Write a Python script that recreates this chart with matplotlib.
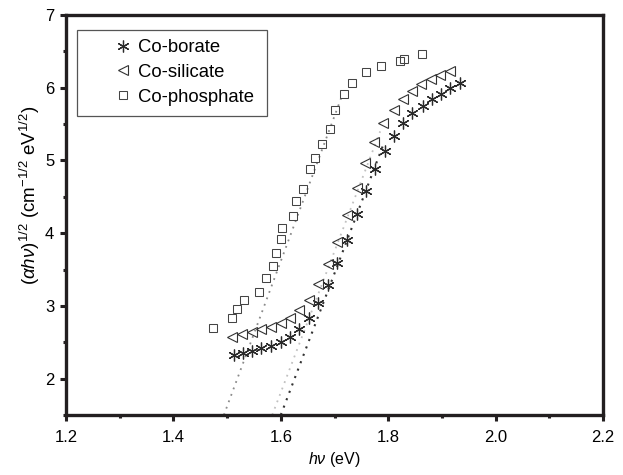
import matplotlib
matplotlib.use("Agg")
import matplotlib.pyplot as plt
from matplotlib.patches import Rectangle
from matplotlib.ticker import MultipleLocator
import numpy as np

plt.rcParams['font.family'] = ['Liberation Sans', 'DejaVu Sans']
plt.rcParams['mathtext.fontset'] = 'custom'
plt.rcParams['mathtext.it'] = 'Liberation Sans:italic'
plt.rcParams['mathtext.rm'] = 'Liberation Sans'

# ---- data ----
borate_x = [1.512, 1.529, 1.547, 1.564, 1.582, 1.600, 1.617, 1.634, 1.653, 1.670,
            1.688, 1.705, 1.723, 1.741, 1.758, 1.775, 1.794, 1.811, 1.828, 1.845,
            1.864, 1.881, 1.898, 1.916, 1.934]
borate_y = [2.32, 2.355, 2.38, 2.415, 2.45, 2.50, 2.575, 2.68, 2.83, 3.04,
            3.285, 3.585, 3.91, 4.26, 4.58, 4.88, 5.13, 5.34, 5.51, 5.65,
            5.75, 5.84, 5.92, 6.00, 6.07]

silicate_x = [1.510, 1.528, 1.547, 1.564, 1.582, 1.600, 1.617, 1.634, 1.652, 1.670,
              1.687, 1.704, 1.723, 1.741, 1.757, 1.774, 1.791, 1.810, 1.827, 1.845,
              1.862, 1.880, 1.897, 1.915]
silicate_y = [2.575, 2.61, 2.64, 2.68, 2.71, 2.76, 2.84, 2.94, 3.08, 3.30,
              3.57, 3.88, 4.25, 4.62, 4.96, 5.26, 5.52, 5.70, 5.85, 5.96,
              6.05, 6.12, 6.17, 6.23]

phosphate_x = [1.473, 1.510, 1.519, 1.532, 1.559, 1.573, 1.586, 1.591, 1.600, 1.603,
               1.622, 1.628, 1.641, 1.654, 1.664, 1.677, 1.692, 1.701, 1.718, 1.732,
               1.759, 1.786, 1.822, 1.829, 1.863]
phosphate_y = [2.70, 2.84, 2.96, 3.08, 3.19, 3.38, 3.55, 3.73, 3.92, 4.07,
               4.23, 4.44, 4.61, 4.88, 5.03, 5.22, 5.43, 5.69, 5.92, 6.07,
               6.21, 6.30, 6.37, 6.39, 6.46]

# linear fit lines (Tauc extrapolation), endpoints
fit_borate_x = [1.600, 1.790]
fit_borate_y = [1.5, 5.20]
fit_silicate_x = [1.584, 1.785]
fit_silicate_y = [1.5, 5.40]
fit_phosphate_x = [1.494, 1.712]
fit_phosphate_y = [1.5, 5.85]

labels = ['Co-borate', 'Co-silicate', 'Co-phosphate']
xticks = [1.2, 1.4, 1.6, 1.8, 2.0, 2.2]
yticks = [2, 3, 4, 5, 6, 7]

# ---- figure ----
fig = plt.figure(figsize=(6.23, 4.75), dpi=100)
ax = fig.add_axes([66/623, 1-415/475, (603-66)/623, (415-15)/475])

dot = (0, (1, 2.8))
ax.plot(fit_phosphate_x, fit_phosphate_y, linestyle=dot, color='#8a8a8a', lw=1.3, zorder=1)
ax.plot(fit_silicate_x, fit_silicate_y, linestyle=dot, color='#c0c0c0', lw=1.3, zorder=1)
ax.plot(fit_borate_x, fit_borate_y, linestyle=dot, color='#333333', lw=1.5, zorder=1)

star = (6, 2, 0)
h1, = ax.plot(borate_x, borate_y, linestyle='none', marker=star, ms=8.5, mew=0.9,
              color='#2a2a2a', label=labels[0], zorder=3)
h2, = ax.plot(silicate_x, silicate_y, linestyle='none', marker='<', ms=7.2, mew=0.8,
              mfc='none', mec='#333333', label=labels[1], zorder=3)
h3, = ax.plot(phosphate_x, phosphate_y, linestyle='none', marker='s', ms=6.3, mew=0.75,
              mfc='none', mec='#444444', label=labels[2], zorder=3)

ax.set_xlim(1.2, 2.2)
ax.set_ylim(1.5, 7)
ax.set_xticks(xticks)
ax.set_yticks(yticks)
ax.set_xticklabels([f"{v:.1f}" for v in xticks])
ax.set_yticklabels([str(v) for v in yticks])
ax.xaxis.set_minor_locator(MultipleLocator(0.1))
ax.yaxis.set_minor_locator(MultipleLocator(0.5))

spine_c = '#231f20'
for s in ax.spines.values():
    s.set_linewidth(2.4)
    s.set_color(spine_c)
ax.tick_params(which='major', direction='out', length=4.5, width=2.2, color=spine_c,
               labelsize=12, pad=4)
ax.tick_params(axis='x', which='major', pad=6)
ax.tick_params(which='minor', direction='out', length=2.5, width=2.2, color=spine_c)

ax.set_xlabel(r'$h\nu$ (eV)', fontsize=11.5, labelpad=4)
ax.set_ylabel(r'$(\alpha h\nu)^{1/2}$ (cm$^{-1/2}$ eV$^{1/2}$)', fontsize=13.5)
ax.yaxis.set_label_coords((42-66)/537, (415-195)/400)

# legend box
x0 = (77-66)/537
x1 = (267-66)/537
yb = (415-116)/400
yt = (415-30)/400
ax.add_patch(Rectangle((x0, yb), x1-x0, yt-yb, transform=ax.transAxes,
                       facecolor='white', edgecolor='#555555', lw=0.9, zorder=4))
leg = ax.legend(handles=[h1, h2, h3], loc='upper left',
                bbox_to_anchor=((109-66)/537, (415-39)/400),
                frameon=False, fontsize=13.3, borderpad=0, borderaxespad=0,
                handlelength=1.5, handletextpad=0.07, labelspacing=0.43, numpoints=1)
leg.set_zorder(5)

fig.savefig('out.png', dpi=100)
